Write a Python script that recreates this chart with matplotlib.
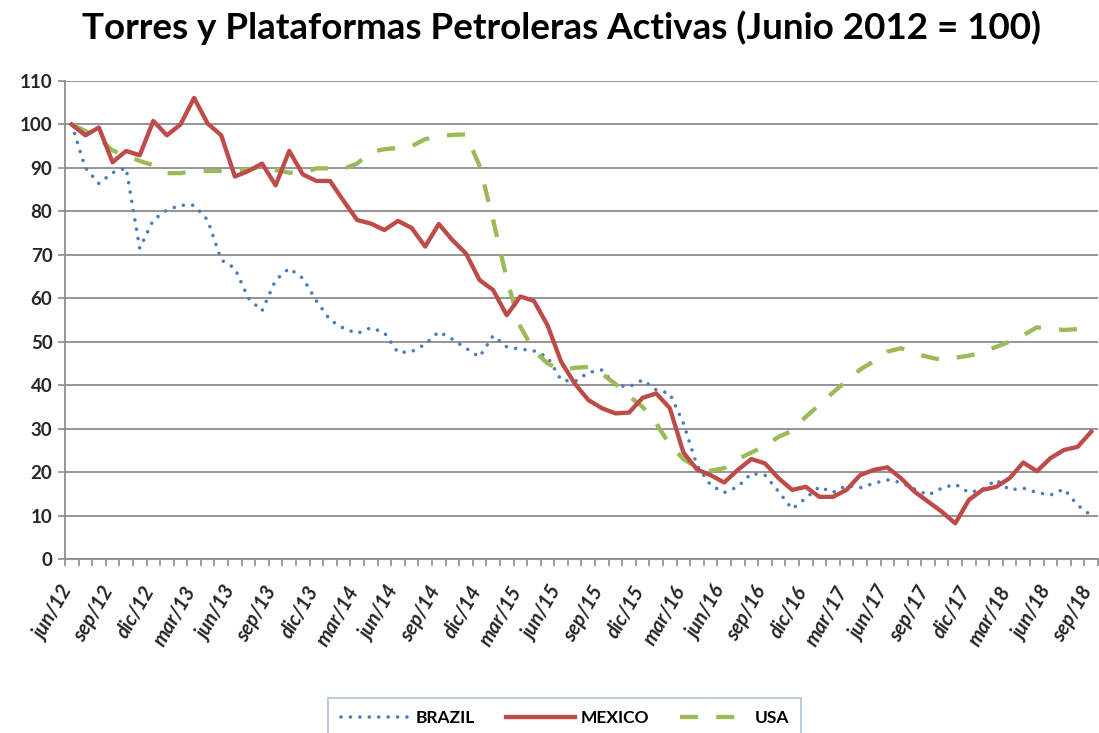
import matplotlib
matplotlib.use("Agg")
import matplotlib.pyplot as plt
import matplotlib.transforms as mtransforms
import numpy as np

plt.rcParams['font.family'] = ['Lato', 'DejaVu Sans']

months_es = ["ene", "feb", "mar", "abr", "may", "jun", "jul", "ago", "sep", "oct", "nov", "dic"]
# monthly categories jun/12 .. sep/18
categories = []
for y in range(2012, 2019):
    for m in range(12):
        if (y == 2012 and m < 5) or (y == 2018 and m > 8):
            continue
        categories.append(f"{months_es[m]}/{str(y)[2:]}")

brazil = [100, 90.0, 86.4, 88.9, 90.0, 71.5, 78.0, 80.3, 81.4, 81.4,
          78.0, 68.8, 66.9, 60.0, 57.1, 64.2, 66.9, 64.6, 59.4, 55.0,
          53.1, 51.9, 53.2, 52.1, 47.5, 47.7, 49.4, 52.3, 50.6, 48.5,
          46.5, 51.4, 48.8, 48.3, 47.9, 46.5, 41.2, 40.8, 42.9, 43.5,
          40.0, 39.6, 41.2, 38.9, 38.1, 31.2, 21.5, 17.0, 15.3, 16.6,
          19.7, 19.3, 15.5, 11.5, 14.0, 16.6, 15.3, 16.9, 16.4, 17.4,
          18.2, 17.6, 16.1, 14.7, 16.3, 17.2, 15.3, 16.0, 18.2, 15.9,
          16.3, 15.3, 14.7, 16.1, 12.4, 10.0]

mexico = [100, 97.5, 99.3, 91.3, 93.9, 92.9, 100.8, 97.5, 100.0, 106.1,
          100.2, 97.5, 88.0, 89.3, 91.0, 86.0, 93.9, 88.5, 87.0, 87.0,
          82.4, 78.0, 77.2, 75.7, 77.8, 76.2, 71.9, 77.1, 73.4, 70.3,
          64.2, 61.9, 56.1, 60.4, 59.4, 53.8, 45.4, 40.4, 36.6, 34.7,
          33.5, 33.7, 37.1, 38.1, 34.7, 24.5, 20.6, 19.3, 17.6, 20.5,
          23.0, 22.0, 18.6, 15.9, 16.6, 14.3, 14.3, 15.9, 19.3, 20.5,
          21.1, 18.6, 15.5, 13.2, 10.9, 8.2, 13.6, 15.9, 16.6, 18.6,
          22.2, 20.2, 23.2, 25.1, 25.8, 29.3]

usa = [100, 98.5, 96.8, 94.0, 92.8, 91.6, 90.6, 88.8, 88.8, 89.2,
       89.3, 89.3, 89.4, 89.6, 90.4, 89.5, 88.9, 88.9, 89.9, 89.9,
       89.8, 91.0, 93.7, 94.3, 94.6, 95.0, 96.6, 97.3, 97.6, 97.7,
       90.5, 78.0, 64.5, 53.5, 48.0, 45.0, 43.5, 44.0, 44.2, 42.6,
       40.3, 37.5, 35.0, 31.2, 26.3, 23.0, 21.0, 20.3, 20.9, 23.0,
       24.5, 26.0, 28.1, 29.5, 32.7, 35.5, 38.3, 41.0, 43.6, 45.5,
       47.7, 48.5, 47.3, 46.5, 45.8, 46.3, 46.8, 47.5, 48.8, 50.0,
       51.5, 53.3, 53.0, 52.7, 52.9, 53.2]

yticks = list(range(0, 111, 10))

fig = plt.figure(figsize=(10.99, 7.33), dpi=100)
ax = fig.add_axes([0.0591, 0.2374, 0.9400, 0.6521])

x = np.arange(len(categories))
ax.plot(x, brazil, color='#4A7EBB', lw=2.6, linestyle=(0, (0.01, 2.6)),
        dash_capstyle='round', label='BRAZIL', zorder=3)
ax.plot(x, mexico, color='#BE4B48', lw=3.1, solid_joinstyle='round',
        label='MEXICO', zorder=4)
ax.plot(x, usa, color='#9BBB59', lw=3.1, linestyle=(0, (4.2, 4.2)),
        label='USA', zorder=3)

ax.set_xlim(-0.5, len(categories) - 0.5)
ax.set_ylim(0, 110)
ax.set_yticks(yticks)
ax.set_yticklabels([str(v) for v in yticks], fontsize=13.5, fontweight='bold', color='#262626')
ax.yaxis.grid(True, color='#8c8c8c', lw=1.3)
ax.set_axisbelow(True)

major = x[::3]
ax.set_xticks(major)
ax.set_xticklabels([categories[i] for i in major], rotation=60, ha='right',
                   rotation_mode='anchor', fontsize=14.5, fontweight='bold',
                   fontstyle='italic', color='#262626')
ax.set_xticks(np.arange(-0.5, len(categories), 1.0), minor=True)
ax.tick_params(axis='x', which='major', length=0, pad=14)
ax.tick_params(axis='x', which='minor', length=5, color='#8c8c8c', width=1.2)
ax.tick_params(axis='y', length=5, color='#8c8c8c', width=1.2, pad=4)

offset = mtransforms.ScaledTranslation(-12 / 100, -4 / 100, fig.dpi_scale_trans)
for lbl in ax.get_xticklabels():
    lbl.set_transform(lbl.get_transform() + offset)

for s in ['top', 'right']:
    ax.spines[s].set_visible(False)
for s in ['left', 'bottom']:
    ax.spines[s].set_color('#8c8c8c')
    ax.spines[s].set_linewidth(1.3)

fig.text(0.511, 0.962, "Torres y Plataformas Petroleras Activas (Junio 2012 = 100)",
         ha='center', va='center', fontsize=26.5, fontweight='bold', color='black')

leg = fig.legend(loc='upper center', bbox_to_anchor=(0.514, 0.060), ncol=3,
                 frameon=True, fancybox=False, handlelength=4.0,
                 columnspacing=1.8, handletextpad=0.3, borderpad=0.7,
                 prop={'weight': 'bold', 'size': 12.5})
leg.get_frame().set_edgecolor('#95B3D7')
leg.get_frame().set_linewidth(1.2)

fig.savefig('out.png', dpi=100)
